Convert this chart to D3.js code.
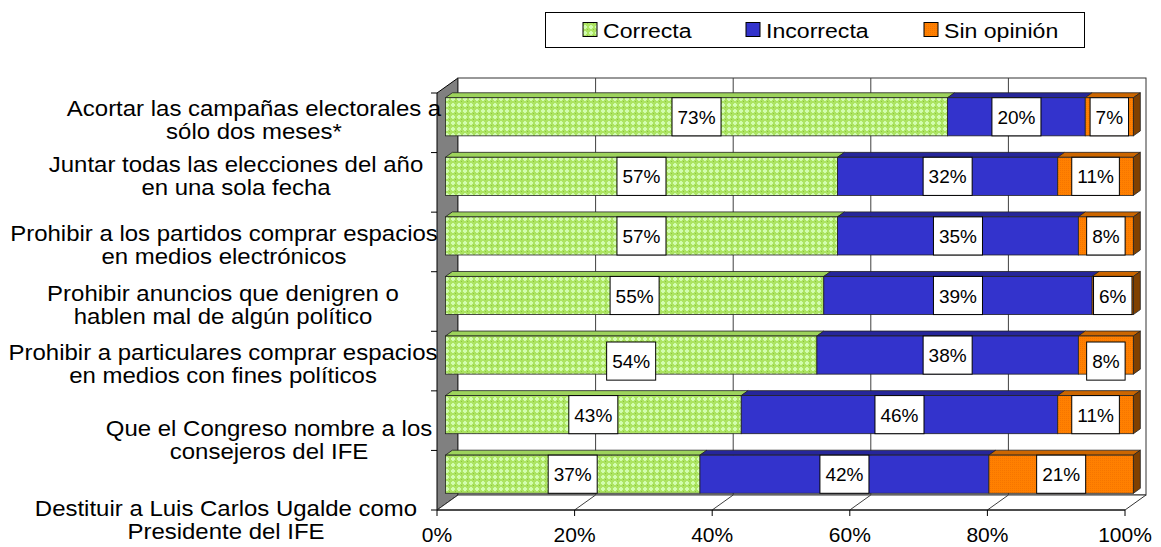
<!DOCTYPE html>
<meta charset="utf-8">
<script src="https://d3js.org/d3.v7.min.js"></script>
<style>
  body { margin: 0; background: #fff; }
  text { font-family: "Liberation Sans", Arial, sans-serif; fill: #000; }
</style>
<div id="chart"></div>
<script>
// ---- data ----
var categories = [
  ["Acortar las campañas electorales a", "sólo dos meses*"],
  ["Juntar todas las elecciones del año", "en una sola fecha"],
  ["Prohibir a los partidos comprar espacios", "en medios electrónicos"],
  ["Prohibir anuncios que denigren o", "hablen mal de algún político"],
  ["Prohibir a particulares comprar espacios", "en medios con fines políticos"],
  ["Que el Congreso nombre a los", "consejeros del IFE"],
  ["Destituir a Luis Carlos Ugalde como", "Presidente del IFE"]
];
var correcta   = [73, 57, 57, 55, 54, 43, 37];
var incorrecta = [20, 32, 35, 39, 38, 46, 42];
var sinOpinion = [7, 11, 8, 6, 8, 11, 21];
var seriesNames = ["Correcta", "Incorrecta", "Sin opinión"];
var xTicks = [0, 20, 40, 60, 80, 100];

// ---- layout (excel 3d look) ----
var W = 1161, H = 547;
var front = {left: 437, right: 1125, top: 93, bottom: 510};
var depth = {dx: 21, dy: -15};
var z0 = 0.4, z1 = 0.73;               // bar front/back as fraction of depth
var labelCx = [254, 236, 224, 223, 223, 269, 226];
var labelDy = [-3, -6, 3, 3, 3, 19, 40];
var boxNudge = {"4-0": 6, "4-2": 6};

var svg = d3.select("#chart").append("svg")
  .attr("width", W).attr("height", H);

var defs = svg.append("defs");
var pg = defs.append("pattern").attr("id", "pGreen")
  .attr("width", 6).attr("height", 6).attr("patternUnits", "userSpaceOnUse");
pg.append("rect").attr("width", 6).attr("height", 6).attr("fill", "#acE462");
pg.append("rect").attr("x", 2).attr("y", 1).attr("width", 2).attr("height", 4).attr("fill", "#d2fdb0");
pg.append("rect").attr("x", 1).attr("y", 2).attr("width", 4).attr("height", 2).attr("fill", "#d2fdb0");
pg.append("rect").attr("x", 5).attr("y", 5).attr("width", 1).attr("height", 1).attr("fill", "#8cc43c");
var po = defs.append("pattern").attr("id", "pOrange")
  .attr("width", 2).attr("height", 2).attr("patternUnits", "userSpaceOnUse");
po.append("rect").attr("width", 2).attr("height", 2).attr("fill", "#ff8000");
po.append("rect").attr("width", 1).attr("height", 1).attr("fill", "#f57500");

var frontFill = ["url(#pGreen)", "#3333cc", "url(#pOrange)"];
var topFill   = ["#9dd35c", "#26269a", "#cc6600"];
var sideFill  = ["#7aa844", "#1a1a66", "#804000"];

var x = d3.scaleLinear().domain([0, 100]).range([front.left, front.right]);
var y = d3.scaleBand().domain(d3.range(categories.length))
  .range([front.top, front.bottom]).paddingInner(0.36).paddingOuter(0.18);

function P(px, py, z) { return [px + depth.dx * z, py + depth.dy * z]; }
function poly(pts) { return pts.map(function(p) { return p.join(","); }).join(" "); }

// walls
svg.append("polygon")
  .attr("points", poly([P(front.left, front.top, 0), P(front.left, front.top, 1),
                        P(front.left, front.bottom, 1), P(front.left, front.bottom, 0)]))
  .attr("fill", "#808080").attr("stroke", "#000");
var b0 = P(front.left, front.top, 1), b1 = P(front.right, front.bottom, 1);
svg.append("rect")
  .attr("x", b0[0]).attr("y", b0[1]).attr("width", b1[0] - b0[0]).attr("height", b1[1] - b0[1])
  .attr("fill", "#fff").attr("stroke", "#333");
svg.append("polygon")
  .attr("points", poly([P(front.left, front.bottom, 0), P(front.right, front.bottom, 0),
                        P(front.right, front.bottom, 1), P(front.left, front.bottom, 1)]))
  .attr("fill", "#fff").attr("stroke", "#333");

// gridlines
xTicks.slice(1, -1).forEach(function(t) {
  var a = P(x(t), front.top, 1), b = P(x(t), front.bottom, 1), c = P(x(t), front.bottom, 0);
  svg.append("polyline").attr("points", poly([a, b, c]))
    .attr("fill", "none").attr("stroke", "#404040");
});
svg.append("line").attr("x1", front.left).attr("x2", front.right)
  .attr("y1", front.bottom).attr("y2", front.bottom).attr("stroke", "#000");

// x axis ticks + labels
var xg = svg.append("g");
xTicks.forEach(function(t) {
  xg.append("line").attr("x1", x(t)).attr("x2", x(t))
    .attr("y1", front.bottom).attr("y2", front.bottom + 6).attr("stroke", "#000");
  xg.append("text").attr("x", x(t)).attr("y", 542)
    .attr("text-anchor", "middle").style("font-size", "21px").text(t + "%");
});

// y ticks at band edges
var step = y.step();
d3.range(categories.length + 1).forEach(function(k) {
  var yy = front.top + k * step;
  svg.append("line").attr("x1", front.left - 6).attr("x2", front.left)
    .attr("y1", yy).attr("y2", yy).attr("stroke", "#000");
});

// bars
var bw = y.bandwidth();
var labelLayer = [];
categories.forEach(function(cat, i) {
  var vals = [correcta[i], incorrecta[i], sinOpinion[i]];
  var g = svg.append("g");
  var cum = 0;
  var yt = y(i), yb = y(i) + bw;
  vals.forEach(function(v, s) {
    var xa = x(cum), xb = x(cum + v);
    cum += v;
    g.append("polygon")
      .attr("points", poly([P(xa, yt, z0), P(xb, yt, z0), P(xb, yt, z1), P(xa, yt, z1)]))
      .attr("fill", topFill[s]).attr("stroke", "#222").attr("stroke-width", 0.8);
    var f = P(xa, yt, z0);
    g.append("rect").attr("x", f[0]).attr("y", f[1])
      .attr("width", xb - xa).attr("height", bw)
      .attr("fill", frontFill[s]).attr("stroke", "#222").attr("stroke-width", 0.8);
    if (s === vals.length - 1) {
      g.append("polygon")
        .attr("points", poly([P(xb, yt, z0), P(xb, yt, z1), P(xb, yb, z1), P(xb, yb, z0)]))
        .attr("fill", sideFill[s]).attr("stroke", "#222").attr("stroke-width", 0.8);
    }
    var c = P((xa + xb) / 2, yt + bw / 2, z0);
    labelLayer.push({cx: c[0], cy: c[1] + (boxNudge[i + "-" + s] || 0), text: v + "%"});
  });
});

// value labels
labelLayer.forEach(function(d) {
  var g = svg.append("g");
  var r = g.append("rect");
  var t = g.append("text").attr("x", d.cx).attr("y", d.cy + 7)
    .attr("text-anchor", "middle").style("font-size", "19px").text(d.text);
  var w = t.node().getComputedTextLength() + 11;
  r.attr("x", d.cx - w / 2).attr("y", d.cy - bw / 2).attr("width", w).attr("height", bw)
    .attr("fill", "#fff").attr("stroke", "#000");
});

// category labels
categories.forEach(function(lines, i) {
  var bc = y(i) + bw / 2 + labelDy[i];
  lines.forEach(function(line, j) {
    svg.append("text")
      .attr("transform", "translate(" + labelCx[i] + "," + (bc + (j - 0.5) * 23 + 7.5) + ") scale(1.09,1)")
      .attr("text-anchor", "middle").style("font-size", "22px").text(line);
  });
});

// legend
var leg = svg.append("g");
leg.append("rect").attr("x", 545.5).attr("y", 12.5).attr("width", 539).attr("height", 35)
  .attr("fill", "#fff").attr("stroke", "#000");
var legX = [583, 746, 924];
seriesNames.forEach(function(n, s) {
  leg.append("rect").attr("x", legX[s]).attr("y", 22.5).attr("width", 14).attr("height", 14)
    .attr("fill", frontFill[s]).attr("stroke", "#000");
  leg.append("text").attr("transform", "translate(" + (legX[s] + 20) + ",37.5) scale(1.1,1)")
    .style("font-size", "21px").text(n);
});
</script>
